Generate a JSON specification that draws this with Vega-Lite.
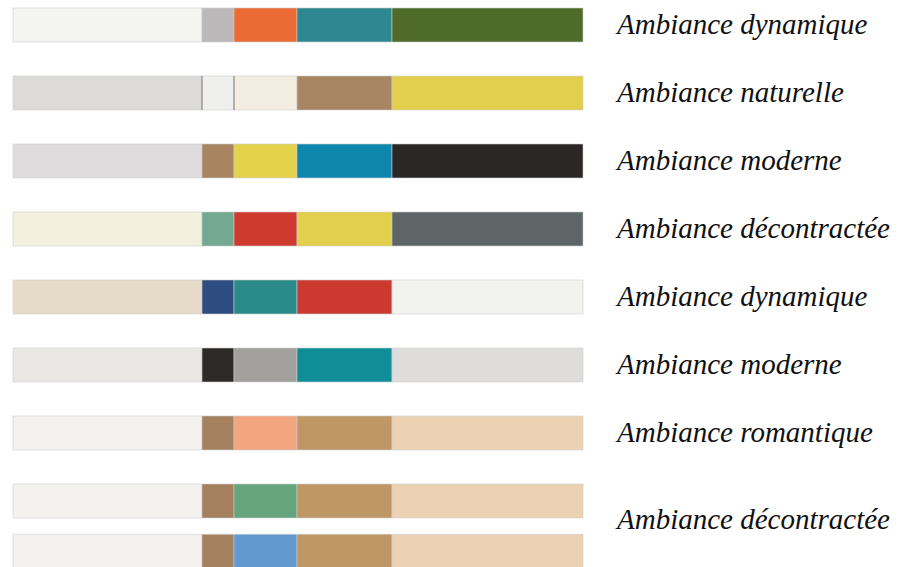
{
  "$schema": "https://vega.github.io/schema/vega-lite/v6.json",
  "width": 904,
  "height": 567,
  "padding": 0,
  "autosize": {"type": "none"},
  "background": "white",
  "config": {"view": {"stroke": null}},
  "datasets": {
    "swatches": [
      {"row": 1, "seg": 1, "start": 0, "end": 189, "color": "#f4f4f1"},
      {"row": 1, "seg": 2, "start": 189, "end": 221, "color": "#bab8b8"},
      {"row": 1, "seg": 3, "start": 221, "end": 284, "color": "#ea6b34"},
      {"row": 1, "seg": 4, "start": 284, "end": 379, "color": "#2f8891"},
      {"row": 1, "seg": 5, "start": 379, "end": 570, "color": "#4e6b2a"},
      {"row": 2, "seg": 1, "start": 0, "end": 189, "color": "#dcdbda"},
      {"row": 2, "seg": 2, "start": 189, "end": 221, "color": "#efefed"},
      {"row": 2, "seg": 3, "start": 221, "end": 284, "color": "#f2ede0"},
      {"row": 2, "seg": 4, "start": 284, "end": 379, "color": "#a88563"},
      {"row": 2, "seg": 5, "start": 379, "end": 570, "color": "#e2cf4c"},
      {"row": 3, "seg": 1, "start": 0, "end": 189, "color": "#dedcdc"},
      {"row": 3, "seg": 2, "start": 189, "end": 221, "color": "#a88560"},
      {"row": 3, "seg": 3, "start": 221, "end": 284, "color": "#e4d34a"},
      {"row": 3, "seg": 4, "start": 284, "end": 379, "color": "#0f87ad"},
      {"row": 3, "seg": 5, "start": 379, "end": 570, "color": "#2a2726"},
      {"row": 4, "seg": 1, "start": 0, "end": 189, "color": "#f3f0de"},
      {"row": 4, "seg": 2, "start": 189, "end": 221, "color": "#74a991"},
      {"row": 4, "seg": 3, "start": 221, "end": 284, "color": "#cf3a2e"},
      {"row": 4, "seg": 4, "start": 284, "end": 379, "color": "#e2cf4c"},
      {"row": 4, "seg": 5, "start": 379, "end": 570, "color": "#5d6567"},
      {"row": 5, "seg": 1, "start": 0, "end": 189, "color": "#e6dac9"},
      {"row": 5, "seg": 2, "start": 189, "end": 221, "color": "#2d4d81"},
      {"row": 5, "seg": 3, "start": 221, "end": 284, "color": "#2b8a8a"},
      {"row": 5, "seg": 4, "start": 284, "end": 379, "color": "#cc3a2f"},
      {"row": 5, "seg": 5, "start": 379, "end": 570, "color": "#f2f2ef"},
      {"row": 6, "seg": 1, "start": 0, "end": 189, "color": "#e9e8e5"},
      {"row": 6, "seg": 2, "start": 189, "end": 221, "color": "#2d2b2a"},
      {"row": 6, "seg": 3, "start": 221, "end": 284, "color": "#a2a19e"},
      {"row": 6, "seg": 4, "start": 284, "end": 379, "color": "#108e97"},
      {"row": 6, "seg": 5, "start": 379, "end": 570, "color": "#dedddb"},
      {"row": 7, "seg": 1, "start": 0, "end": 189, "color": "#f3f2ef"},
      {"row": 7, "seg": 2, "start": 189, "end": 221, "color": "#a5805f"},
      {"row": 7, "seg": 3, "start": 221, "end": 284, "color": "#f3a57f"},
      {"row": 7, "seg": 4, "start": 284, "end": 379, "color": "#be9765"},
      {"row": 7, "seg": 5, "start": 379, "end": 570, "color": "#ecd2b3"},
      {"row": 8, "seg": 1, "start": 0, "end": 189, "color": "#f3f2ef"},
      {"row": 8, "seg": 2, "start": 189, "end": 221, "color": "#a5805f"},
      {"row": 8, "seg": 3, "start": 221, "end": 284, "color": "#66a47c"},
      {"row": 8, "seg": 4, "start": 284, "end": 379, "color": "#be9765"},
      {"row": 8, "seg": 5, "start": 379, "end": 570, "color": "#ecd2b3"},
      {"row": 8.74, "seg": 1, "start": 0, "end": 189, "color": "#f3f2ef"},
      {"row": 8.74, "seg": 2, "start": 189, "end": 221, "color": "#a5805f"},
      {"row": 8.74, "seg": 3, "start": 221, "end": 284, "color": "#6299cf"},
      {"row": 8.74, "seg": 4, "start": 284, "end": 379, "color": "#be9765"},
      {"row": 8.74, "seg": 5, "start": 379, "end": 570, "color": "#ecd2b3"}
    ],
    "dividers": [
      {"row": 2, "at": 189},
      {"row": 2, "at": 221}
    ],
    "labels": [
      {"row": 1, "label": "Ambiance dynamique"},
      {"row": 2, "label": "Ambiance naturelle"},
      {"row": 3, "label": "Ambiance moderne"},
      {"row": 4, "label": "Ambiance décontractée"},
      {"row": 5, "label": "Ambiance dynamique"},
      {"row": 6, "label": "Ambiance moderne"},
      {"row": 7, "label": "Ambiance romantique"},
      {"row": 8.28, "label": "Ambiance décontractée"}
    ]
  },
  "layer": [
    {
      "data": {"name": "swatches"},
      "mark": {"type": "bar", "size": 34, "stroke": "#cfcfcf", "strokeWidth": 0.6},
      "encoding": {
        "x": {"field": "start", "type": "quantitative", "scale": {"domain": [-13, 891], "range": [0, 904], "nice": false, "zero": false, "padding": 0}, "axis": null},
        "x2": {"field": "end"},
        "y": {"field": "row", "type": "quantitative", "scale": {"domain": [0.6324, 8.9706], "range": [0, 567], "nice": false, "zero": false, "padding": 0}, "axis": null},
        "color": {"field": "color", "type": "nominal", "scale": null}
      }
    },
    {
      "data": {"name": "dividers"},
      "mark": {"type": "tick", "orient": "vertical", "size": 34, "thickness": 1, "color": "#555555"},
      "encoding": {
        "x": {"field": "at", "type": "quantitative"},
        "y": {"field": "row", "type": "quantitative"}
      }
    },
    {
      "data": {"name": "labels"},
      "mark": {"type": "text", "align": "left", "baseline": "middle", "font": "Times New Roman, Times, serif", "fontStyle": "italic", "fontSize": 29, "color": "#111111"},
      "encoding": {
        "x": {"datum": 604, "type": "quantitative"},
        "y": {"field": "row", "type": "quantitative"},
        "text": {"field": "label"}
      }
    }
  ]
}
